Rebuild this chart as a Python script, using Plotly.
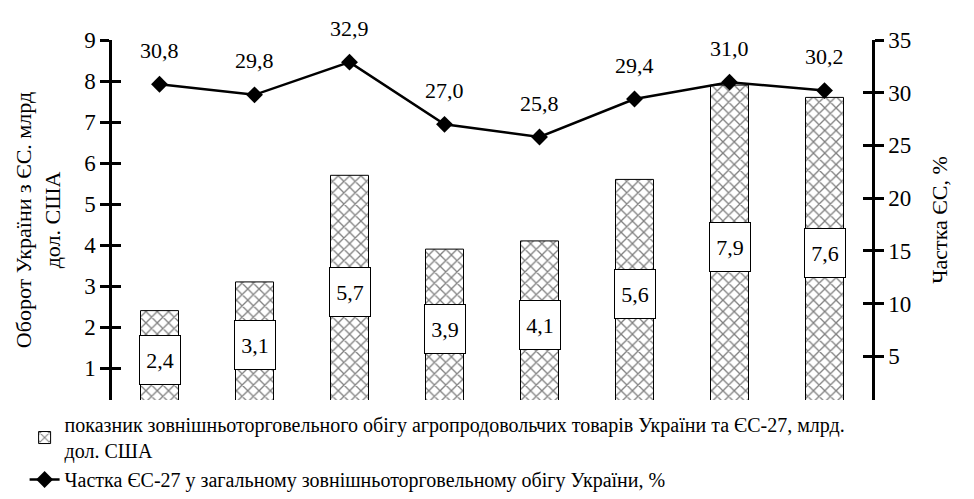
import plotly.graph_objects as go

categories = ["A", "B", "C", "D", "E", "F", "G", "H"]
turnover = [2.4, 3.1, 5.7, 3.9, 4.1, 5.6, 7.9, 7.6]
eu_share = [30.8, 29.8, 32.9, 27.0, 25.8, 29.4, 31.0, 30.2]
left_ticks = [1, 2, 3, 4, 5, 6, 7, 8, 9]
right_ticks = [5, 10, 15, 20, 25, 30, 35]

bar_name = ("показник зовнішньоторговельного обігу агропродовольчих товарів України та ЄС-27, млрд.<br>"
            "дол. США")
line_name = "Частка ЄС-27 у загальному зовнішньоторговельному обігу України, %"

FONT = "Liberation Serif, Times New Roman, serif"
L_RANGE = [0.22, 9]
R_RANGE = [0.22 * 35 / 9, 35]

def fmt(v):
    return f"{v:.1f}".replace(".", ",")

fig = go.Figure()
fig.add_trace(go.Bar(
    x=categories, y=turnover, name=bar_name, width=0.4,
    marker=dict(color="white", line=dict(color="black", width=1),
                pattern=dict(shape="x", fgcolor="black", bgcolor="white", size=8, solidity=0.3)),
    yaxis="y", hoverinfo="skip",
))
fig.add_trace(go.Scatter(
    x=categories, y=eu_share, name=line_name, mode="lines+markers",
    line=dict(color="black", width=2.5),
    marker=dict(symbol="diamond", size=13, color="black"),
    yaxis="y2",
))
fig.add_trace(go.Scatter(x=categories, y=turnover, yaxis="y3", mode="markers",
                         marker=dict(opacity=0), showlegend=False, hoverinfo="skip"))
fig.add_trace(go.Scatter(x=categories, y=eu_share, yaxis="y4", mode="markers",
                         marker=dict(opacity=0), showlegend=False, hoverinfo="skip"))

annotations = []
for c, v in zip(categories, turnover):
    annotations.append(dict(x=c, y=v / 2, xref="x", yref="y", text=fmt(v), showarrow=False,
                            bgcolor="white", bordercolor="black", borderwidth=1,
                            width=38, height=46, borderpad=1,
                            font=dict(family=FONT, size=22, color="black")))
for c, v in zip(categories, eu_share):
    annotations.append(dict(x=c, y=v, xref="x", yref="y2", text=fmt(v), showarrow=False,
                            yshift=34, font=dict(family=FONT, size=22, color="black")))

axis_common = dict(showgrid=False, zeroline=False, linecolor="black", linewidth=2.5,
                   tickcolor="black", tickwidth=2.5, ticklen=9,
                   tickfont=dict(family=FONT, size=23, color="black"))

fig.update_layout(
    width=966, height=491,
    margin=dict(l=104, r=102, t=32, b=99, autoexpand=False),
    paper_bgcolor="white", plot_bgcolor="white",
    font=dict(family=FONT, color="black"),
    xaxis=dict(type="category", showticklabels=False, showline=False, showgrid=False,
               zeroline=False, ticks=""),
    yaxis=dict(range=L_RANGE, tickvals=left_ticks, ticks="outside", showline=True, side="left",
               title=dict(text="Оборот України з ЄС. млрд<br>дол. США",
                          font=dict(family=FONT, size=22), standoff=18),
               **axis_common),
    yaxis2=dict(range=R_RANGE, tickvals=right_ticks, ticks="outside", showline=True,
                overlaying="y", side="right", anchor="x",
                title=dict(text="Частка ЄС, %", font=dict(family=FONT, size=22), standoff=22),
                **axis_common),
    yaxis3=dict(range=L_RANGE, tickvals=left_ticks, ticks="inside", showline=False,
                showticklabels=False, overlaying="y", side="left", anchor="x",
                **axis_common),
    yaxis4=dict(range=R_RANGE, tickvals=right_ticks, ticks="inside", showline=False,
                showticklabels=False, overlaying="y", side="right", anchor="x",
                **axis_common),
    legend=dict(x=-0.115, y=-0.014, xanchor="left", yanchor="top", orientation="v",
                font=dict(family=FONT, size=20, color="black"), tracegroupgap=18,
                bgcolor="rgba(0,0,0,0)"),
    showlegend=True,
    annotations=annotations,
)

fig.write_html("out.html")
